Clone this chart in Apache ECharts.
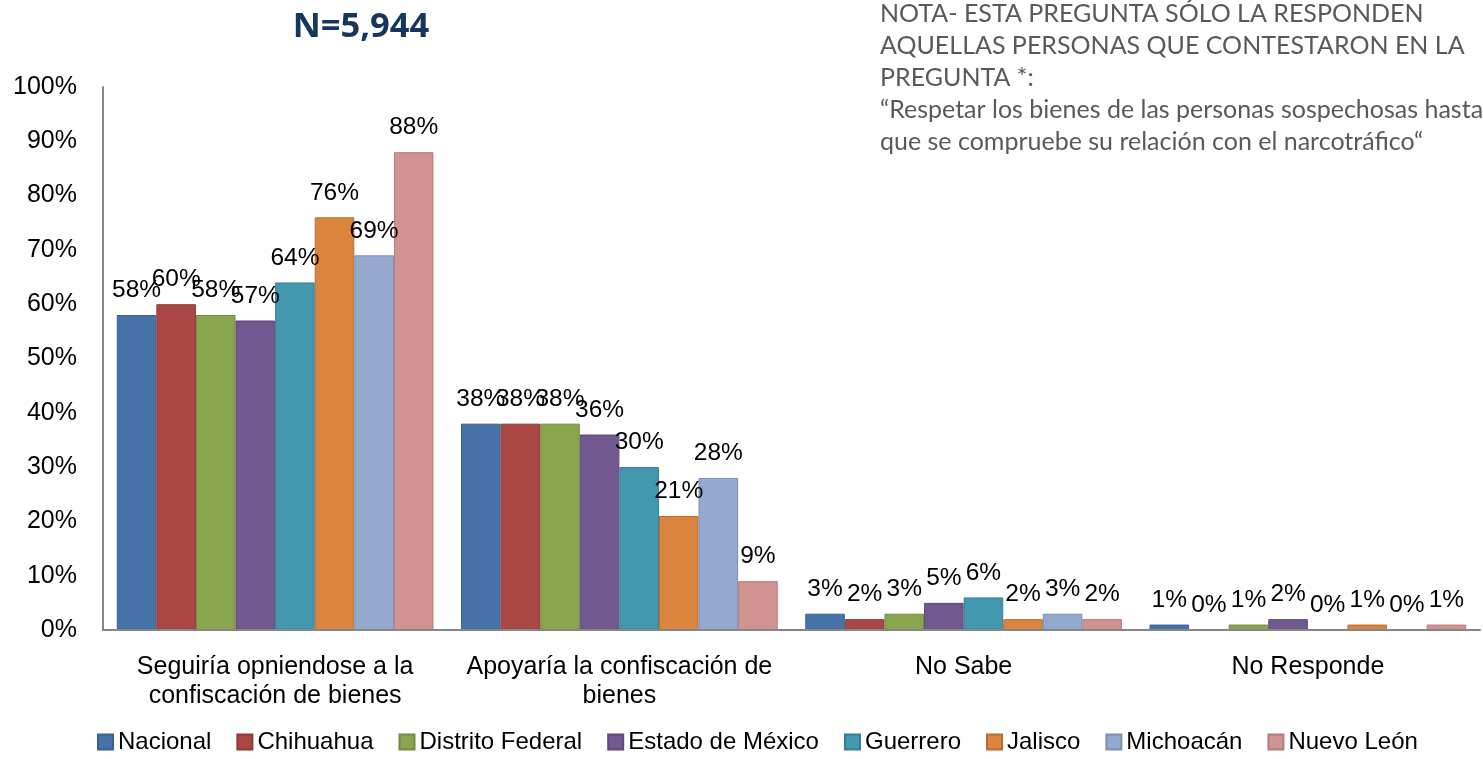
<!DOCTYPE html>
<html>
<head>
<meta charset="utf-8">
<script src="https://cdn.jsdelivr.net/npm/echarts@6/dist/echarts.min.js"></script>
<style>
html,body{margin:0;padding:0;background:#fff;}
#chart{width:1483px;height:759px;}
</style>
</head>
<body>
<div id="chart"></div>
<script>
const categories = ['Seguiría opniendose a la\nconfiscación de bienes', 'Apoyaría la confiscación de\nbienes', 'No Sabe', 'No Responde'];
const seriesNames = ['Nacional', 'Chihuahua', 'Distrito Federal', 'Estado de México', 'Guerrero', 'Jalisco', 'Michoacán', 'Nuevo León'];
const nacional = [58, 38, 3, 1];
const chihuahua = [60, 38, 2, 0];
const distritoFederal = [58, 38, 3, 1];
const estadoMexico = [57, 36, 5, 2];
const guerrero = [64, 30, 6, 0];
const jalisco = [76, 21, 2, 1];
const michoacan = [69, 28, 3, 0];
const nuevoLeon = [88, 9, 2, 1];
const yTicks = [0, 10, 20, 30, 40, 50, 60, 70, 80, 90, 100];
const titleText = 'N=5,944';
const noteLines = [
  'NOTA- ESTA PREGUNTA SÓLO LA RESPONDEN',
  'AQUELLAS PERSONAS QUE CONTESTARON EN LA',
  'PREGUNTA *:',
  '“Respetar los bienes de las personas sospechosas hasta',
  'que se compruebe su relación con el narcotráfico“'
];

const allData = [nacional, chihuahua, distritoFederal, estadoMexico, guerrero, jalisco, michoacan, nuevoLeon];
const colors = ['#4572A7', '#AA4643', '#89A54E', '#71588F', '#4198AF', '#DB843D', '#93A9CF', '#D19392'];
const borders = ['#3A6190', '#8E3A38', '#728A41', '#5E4977', '#367F92', '#B76E33', '#7D90B2', '#B27D7C'];

const FONT = '"Liberation Sans", Arial, sans-serif';

const chart = echarts.init(document.getElementById('chart'), null, {renderer: 'canvas'});
chart.setOption({
  animation: false,
  backgroundColor: '#ffffff',
  title: {
    text: titleText,
    left: 356, top: 5,
    textAlign: 'center',
    textStyle: {fontFamily: '"Open Sans", sans-serif', fontWeight: 'bold', fontSize: 34.5, color: '#17365D'}
  },
  graphic: noteLines.map((t, i) => ({
    type: 'text', left: 880, top: 1 + i * 32,
    style: {text: t, fill: '#595959', font: '25px Lato, "Open Sans", sans-serif'}
  })),
  legend: {
    data: seriesNames,
    left: 92, top: 725,
    itemWidth: 15, itemHeight: 15, itemGap: 25,
    icon: 'rect',
    textStyle: {fontFamily: FONT, fontSize: 24, color: '#000'}
  },
  grid: {left: 103, right: 3, top: 87, bottom: 129, containLabel: false},
  xAxis: {
    type: 'category', data: categories, z: 5,
    axisLine: {lineStyle: {color: '#868686', width: 2}},
    axisTick: {show: false},
    axisLabel: {fontFamily: FONT, fontSize: 25, color: '#000', lineHeight: 29, margin: 23, interval: 0}
  },
  yAxis: {
    type: 'value', min: yTicks[0], max: yTicks[yTicks.length - 1], interval: 10,
    axisLine: {show: true, lineStyle: {color: '#868686', width: 2}},
    axisTick: {show: false},
    splitLine: {show: false},
    axisLabel: {fontFamily: FONT, fontSize: 25, color: '#000', margin: 26, formatter: '{value}%'}
  },
  series: seriesNames.map((n, i) => ({
    name: n, type: 'bar', data: allData[i],
    barGap: '0%', barCategoryGap: '8%',
    itemStyle: {color: colors[i], borderColor: borders[i], borderWidth: 1},
    label: {show: true, position: 'top', distance: 12, formatter: '{c}%', fontFamily: FONT, fontSize: 24.5, color: '#000'}
  }))
});
</script>
</body>
</html>
